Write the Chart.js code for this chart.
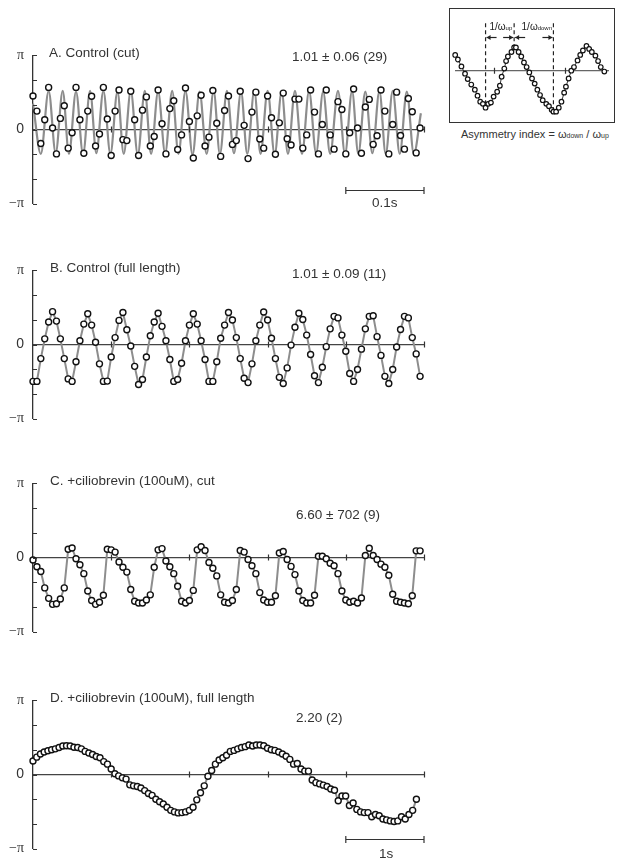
<!DOCTYPE html>
<html>
<head>
<meta charset="utf-8">
<title>Phase traces</title>
<script src="https://cdn.jsdelivr.net/npm/chart.js@4.4.1/dist/chart.umd.min.js"></script>
<style>
  body { margin: 0; width: 618px; height: 860px; position: relative; overflow: hidden; background: #fff;
         font-family: "Liberation Sans", Arial, sans-serif; color: #333; }
  canvas { position: absolute; }
  .lbl { position: absolute; font-size: 13.5px; white-space: nowrap; line-height: 14px; color: #333; }
  #insetBox { position: absolute; left: 449px; top: 8px; width: 164px; height: 113px; border: 1.5px solid #333; }
  #insetBox canvas { left: 0; top: 0; }
  .cap { position: absolute; left: 461px; top: 128px; font-size: 11px; white-space: nowrap; color: #333; }
  .cap span { font-size: 7px; color: #333; }
</style>
</head>
<body>
<canvas id="chartA" width="430" height="183" style="left:0;top:38px"></canvas>
<canvas id="chartB" width="430" height="183" style="left:0;top:253px"></canvas>
<canvas id="chartC" width="430" height="183" style="left:0;top:466px"></canvas>
<canvas id="chartD" width="430" height="183" style="left:0;top:683px"></canvas>
<div id="insetBox"><canvas id="chartInset" width="164" height="113"></canvas></div>

<div class="lbl" style="left:49px;top:46px">A. Control (cut)</div>
<div class="lbl" style="left:292px;top:50px">1.01 ± 0.06 (29)</div>
<div class="lbl" style="left:372px;top:196px">0.1s</div>
<div class="lbl" style="left:50px;top:261px">B. Control (full length)</div>
<div class="lbl" style="left:292px;top:267px">1.01 ± 0.09 (11)</div>
<div class="lbl" style="left:50px;top:474px">C. +ciliobrevin (100uM), cut</div>
<div class="lbl" style="left:296px;top:508px">6.60 ± 702 (9)</div>
<div class="lbl" style="left:50px;top:691px">D. +ciliobrevin (100uM), full length</div>
<div class="lbl" style="left:296px;top:711px">2.20 (2)</div>
<div class="lbl" style="left:379px;top:847px">1s</div>
<div class="cap">Asymmetry index = ω<span>down</span> / ω<span>up</span></div>

<script>
// phase values in units of pi, sampled every STEP
const A_STEP_MS = 5;
const A_VAL = [0.453, 0.248, -0.188, 0.132, 0.568, 0.021, -0.329, 0.15, 0.321, -0.252,
  -0.043, 0.568, 0.132, -0.321, 0.248, 0.449, -0.222, -0.060, 0.568, 0.141,
  -0.350, 0.248, 0.534, -0.137, -0.150, 0.517, 0.132, -0.350, 0.261, 0.440,
  -0.222, -0.094, 0.534, 0.077, -0.329, 0.282, 0.389, -0.269, -0.073, 0.560,
  0.107, -0.385, 0.184, 0.462, -0.222, -0.103, 0.526, 0.085, -0.363, 0.256,
  0.453, -0.201, -0.150, 0.517, 0.056, -0.393, 0.235, 0.504, -0.128, -0.252,
  0.453, 0.158, -0.333, 0.090, 0.491, -0.124, -0.209, 0.410, 0.410, -0.252,
  -0.073, 0.534, 0.235, -0.329, 0.068, 0.534, -0.073, -0.265, 0.376, 0.269,
  -0.329, -0.043, 0.547, 0.021, -0.321, 0.303, 0.406, -0.201, -0.085, 0.534,
  0.248, -0.329, 0.068, 0.504, -0.081, -0.265, 0.419, 0.239, -0.316, 0.021];
// fitted sine in A: turning points (ms, pi units)
const A_FIT_MS = [0, 10, 20, 29, 38, 46, 55, 64, 73, 81, 90, 99, 108, 116, 125, 134, 143, 151, 160,
  169, 178, 186, 195, 204, 213, 222, 231, 239, 248, 257, 266, 274, 283, 291, 300, 309, 318, 326, 335,
  344, 353, 362, 371, 380, 390, 399, 408, 416, 425, 434, 443, 451, 460, 469, 478, 487, 496];
const A_FIT_VAL = [0.35, -0.33, 0.52, -0.32, 0.52, -0.33, 0.51, -0.33, 0.52, -0.32, 0.52, -0.33, 0.51,
  -0.33, 0.52, -0.34, 0.52, -0.33, 0.51, -0.32, 0.52, -0.33, 0.52, -0.34, 0.51, -0.33, 0.52, -0.33, 0.52,
  -0.32, 0.51, -0.33, 0.52, -0.33, 0.52, -0.34, 0.51, -0.33, 0.52, -0.33, 0.52, -0.32, 0.51, -0.33, 0.52,
  -0.33, 0.52, -0.33, 0.51, -0.32, 0.52, -0.33, 0.52, -0.33, 0.51, -0.33, 0.22];

const B_STEP_MS = 5;
const B_VAL = [-0.498, -0.498, -0.190, 0.076, 0.304, 0.443, 0.316, 0.076, -0.190, -0.464,
  -0.498, -0.232, 0.051, 0.275, 0.414, 0.262, 0.030, -0.261, -0.498, -0.494,
  -0.168, 0.093, 0.325, 0.431, 0.199, -0.021, -0.295, -0.540, -0.472, -0.168,
  0.119, 0.304, 0.422, 0.245, 0.051, -0.202, -0.498, -0.472, -0.253, 0.051,
  0.262, 0.414, 0.275, 0.051, -0.202, -0.498, -0.498, -0.232, 0.085, 0.262,
  0.431, 0.330, 0.093, -0.190, -0.455, -0.514, -0.261, 0.051, 0.262, 0.439,
  0.330, 0.085, -0.190, -0.443, -0.527, -0.316, -0.008, 0.232, 0.422, 0.338,
  0.127, -0.135, -0.422, -0.514, -0.308, -0.029, 0.211, 0.380, 0.359, 0.127,
  -0.092, -0.392, -0.498, -0.337, -0.063, 0.211, 0.380, 0.389, 0.106, -0.147,
  -0.430, -0.527, -0.337, -0.033, 0.203, 0.380, 0.359, 0.093, -0.127, -0.430];

const C_STEP_MS = 5;
const C_VAL = [-0.034, -0.124, -0.188, -0.410, -0.551, -0.632, -0.624, -0.560, -0.410, 0.111,
  0.128, -0.017, -0.098, -0.218, -0.453, -0.581, -0.632, -0.603, -0.509, 0.111,
  0.103, 0.073, -0.060, -0.132, -0.197, -0.432, -0.590, -0.615, -0.615, -0.573,
  -0.504, -0.132, 0.103, 0.120, -0.047, -0.124, -0.218, -0.389, -0.590, -0.615,
  -0.581, -0.444, 0.103, 0.145, 0.094, -0.068, -0.145, -0.248, -0.504, -0.603,
  -0.615, -0.581, -0.432, 0.094, 0.073, -0.026, -0.111, -0.218, -0.474, -0.573,
  -0.603, -0.603, -0.517, 0.060, 0.081, -0.026, -0.120, -0.231, -0.453, -0.581,
  -0.615, -0.615, -0.509, 0.017, 0.017, -0.017, -0.077, -0.111, -0.218, -0.453,
  -0.573, -0.603, -0.590, -0.615, -0.547, 0.026, 0.124, 0.026, -0.026, -0.090,
  -0.132, -0.239, -0.496, -0.590, -0.603, -0.615, -0.624, -0.517, 0.090, 0.090];

const D_STEP_S = 0.0476;
const D_VAL = [0.183, 0.234, 0.277, 0.303, 0.320, 0.333, 0.346, 0.364, 0.385, 0.389,
  0.385, 0.368, 0.364, 0.346, 0.312, 0.290, 0.269, 0.243, 0.226, 0.174,
  0.140, 0.075, 0.011, -0.019, -0.045, -0.062, -0.140, -0.153, -0.161, -0.183,
  -0.217, -0.256, -0.282, -0.333, -0.368, -0.398, -0.441, -0.484, -0.505, -0.518,
  -0.514, -0.505, -0.484, -0.441, -0.342, -0.247, -0.153, -0.024, 0.054, 0.140,
  0.196, 0.226, 0.260, 0.312, 0.325, 0.346, 0.364, 0.376, 0.398, 0.385,
  0.398, 0.398, 0.389, 0.355, 0.333, 0.325, 0.303, 0.277, 0.247, 0.204,
  0.140, 0.148, 0.075, 0.045, 0.045, -0.075, -0.110, -0.127, -0.144, -0.161,
  -0.196, -0.213, -0.355, -0.290, -0.290, -0.419, -0.385, -0.471, -0.505, -0.514,
  -0.514, -0.570, -0.540, -0.557, -0.600, -0.613, -0.626, -0.634, -0.626, -0.570,
  -0.600, -0.540, -0.484, -0.333];

// inset: schematic wave
const INSET_X = [0, 3, 7, 11, 14, 18, 22, 25, 28, 31, 34, 37, 40, 43, 47, 50, 52, 55, 57, 59,
  63, 66, 68, 71, 74, 77, 80, 83, 86, 89, 92, 95, 98, 102, 105, 108, 110, 113, 116, 119,
  122, 124, 127, 130, 133, 137, 140, 143, 147, 150, 153, 157, 160, 163, 167];
const INSET_Y = [0.348, 0.248, 0.094, -0.066, -0.186, -0.306, -0.420, -0.553, -0.686, -0.733,
  -0.819, -0.733, -0.706, -0.573, -0.466, -0.333, -0.133, 0.047, 0.214, 0.314,
  0.414, 0.514, 0.514, 0.414, 0.314, 0.181, 0.081, -0.039, -0.173, -0.286,
  -0.420, -0.539, -0.653, -0.733, -0.786, -0.866, -0.906, -0.906, -0.819, -0.686,
  -0.486, -0.353, -0.173, 0.0, 0.081, 0.227, 0.348, 0.447, 0.547, 0.481,
  0.414, 0.333, 0.214, 0.081, -0.019];
const INSET_TICKS = [43, 123];

function piLabel(v) {
  if (Math.abs(v - 1) < 1e-6) return 'π';
  if (Math.abs(v) < 1e-6) return '0';
  if (Math.abs(v + 1) < 1e-6) return '−π';
  return '';
}

function sampled(vals, step) {
  return vals.map(function (v, i) { return { x: i * step, y: v }; });
}

// inward y ticks, small marks across the zero line, scale bar
const axisDeco = {
  id: 'axisDeco',
  afterDraw(chart, args, opts) {
    const ctx = chart.ctx, x = chart.scales.x, y = chart.scales.y;
    const y0 = y.getPixelForValue(0);
    ctx.save();
    ctx.strokeStyle = '#333';
    ctx.lineWidth = 1.2;
    ctx.beginPath();
    if (y.options.display) {
      y.ticks.forEach(function (t) {
        const py = Math.round(y.getPixelForValue(t.value)) + 0.5;
        ctx.moveTo(y.right, py);
        ctx.lineTo(y.right + 4, py);
      });
    }
    (opts.xTicks || x.ticks.map(function (t) { return t.value; })).forEach(function (v) {
      if (v <= x.min) return;
      const px = Math.round(x.getPixelForValue(v)) + 0.5;
      ctx.moveTo(px, y0 - 3);
      ctx.lineTo(px, y0 + 3);
    });
    if (opts.bar) {
      const py = Math.round(y.getPixelForValue(opts.bar[2])) + 0.5;
      const p0 = x.getPixelForValue(opts.bar[0]), p1 = x.getPixelForValue(opts.bar[1]);
      ctx.moveTo(p0, py); ctx.lineTo(p1, py);
      ctx.moveTo(p0, py - 3.5); ctx.lineTo(p0, py + 3.5);
      ctx.moveTo(p1, py - 3.5); ctx.lineTo(p1, py + 3.5);
    }
    ctx.stroke();
    ctx.restore();
  }
};

const dots = {
  showLine: false, pointRadius: 3, pointBackgroundColor: '#fff',
  pointBorderColor: '#111', pointBorderWidth: 1.4, clip: false
};

function phasePanel(id, datasets, xMax, xStep, bar) {
  return new Chart(document.getElementById(id), {
    type: 'line',
    data: { datasets: datasets },
    options: {
      responsive: false, animation: false, events: [],
      layout: { padding: { top: 15, bottom: 12, left: 0, right: 6 } },
      plugins: { legend: { display: false }, tooltip: { enabled: false }, axisDeco: { bar: bar } },
      scales: {
        x: {
          type: 'linear', min: 0, max: xMax, position: { y: 0 },
          border: { display: true, color: '#444', width: 1.3 },
          grid: { display: false, drawTicks: false },
          ticks: { display: false, stepSize: xStep }
        },
        y: {
          min: -1, max: 1,
          afterFit: function (s) { s.width = 33; },
          border: { display: true, color: '#333', width: 1.3 },
          grid: { display: false, drawTicks: false },
          ticks: {
            stepSize: 1 / 3, autoSkip: false, padding: 9, color: '#333', callback: piLabel,
            font: function (c) {
              const zero = c.tick && Math.abs(c.tick.value) < 1e-6;
              return { family: zero ? 'Liberation Sans' : 'Liberation Serif', size: 14 };
            }
          }
        }
      }
    },
    plugins: [axisDeco]
  });
}

function tracePoints(vals, step) {
  return Object.assign({}, dots, {
    data: sampled(vals, step), showLine: true, borderColor: '#8d8d8d', borderWidth: 2, tension: 0
  });
}

phasePanel('chartA', [
  Object.assign({}, dots, { data: sampled(A_VAL, A_STEP_MS), order: 0 }),
  { data: A_FIT_MS.map(function (t, i) { return { x: t, y: A_FIT_VAL[i] }; }),
    borderColor: '#8d8d8d', borderWidth: 2.2, pointRadius: 0, cubicInterpolationMode: 'monotone', order: 1, clip: false }
], 500, 100, [400, 500, -0.81]);

phasePanel('chartB', [tracePoints(B_VAL, B_STEP_MS)], 500, 100);
phasePanel('chartC', [tracePoints(C_VAL, C_STEP_MS)], 500, 100);
phasePanel('chartD', [tracePoints(D_VAL, D_STEP_S)], 5, 1, [4, 5, -0.87]);

// inset: turning points found from the data
function argExt(arr, from, to, wantMax) {
  let best = from;
  for (let i = from; i < to; i++) {
    if (wantMax ? arr[i] > arr[best] : arr[i] < arr[best]) best = i;
  }
  return best;
}
const iLow1 = argExt(INSET_Y, 0, 20, false);
const iPeak = argExt(INSET_Y, iLow1, iLow1 + 20, true);
const iLow2 = argExt(INSET_Y, iPeak, iPeak + 25, false);
const DASH_TOP = 1.05;

function dashed(i) {
  return { data: [{ x: INSET_X[i], y: DASH_TOP }, { x: INSET_X[i], y: INSET_Y[i] }],
    borderColor: '#222', borderWidth: 1.2, borderDash: [4, 3], pointRadius: 0, order: 2 };
}

const insetDeco = {
  id: 'insetDeco',
  afterDatasetsDraw(chart) {
    const ctx = chart.ctx, x = chart.scales.x, y = chart.scales.y;
    const xa = x.getPixelForValue(INSET_X[iLow1]);
    const xb = x.getPixelForValue(INSET_X[iPeak]);
    const xc = x.getPixelForValue(INSET_X[iLow2]);
    const ay = Math.round(y.getPixelForValue(0.74)) + 0.5;
    ctx.save();
    ctx.strokeStyle = '#222';
    ctx.fillStyle = '#222';
    ctx.lineWidth = 1.2;
    function arrow(tip, dir) {
      ctx.beginPath();
      ctx.moveTo(tip, ay); ctx.lineTo(tip + dir * 10, ay); ctx.stroke();
      ctx.beginPath();
      ctx.moveTo(tip, ay); ctx.lineTo(tip + dir * 4, ay - 2.5); ctx.lineTo(tip + dir * 4, ay + 2.5);
      ctx.closePath(); ctx.fill();
    }
    arrow(xa + 1, 1); arrow(xb - 1, -1); arrow(xb + 1, 1); arrow(xc - 1, -1);
    function label(cx, sub) {
      const ty = y.getPixelForValue(0.96);
      ctx.font = '10px "Liberation Sans"';
      const w1 = ctx.measureText('1/ω').width;
      ctx.font = '6px "Liberation Sans"';
      const w2 = ctx.measureText(sub).width;
      const left = cx - (w1 + w2) / 2;
      ctx.textBaseline = 'middle';
      ctx.font = '10px "Liberation Sans"';
      ctx.fillText('1/ω', left, ty);
      ctx.font = '6px "Liberation Sans"';
      ctx.fillText(sub, left + w1, ty + 1.5);
    }
    label((xa + xb) / 2 + 1, 'up');
    label((xb + xc) / 2 + 3, 'down');
    ctx.restore();
  }
};

new Chart(document.getElementById('chartInset'), {
  type: 'line',
  data: {
    datasets: [
      { data: INSET_X.map(function (v, i) { return { x: v, y: INSET_Y[i] }; }),
        borderColor: '#333', borderWidth: 1, tension: 0, pointRadius: 2.3,
        pointBackgroundColor: '#fff', pointBorderColor: '#111', pointBorderWidth: 1.2, order: 0, clip: false },
      dashed(iLow1), dashed(iPeak), dashed(iLow2)
    ]
  },
  options: {
    responsive: false, animation: false, events: [],
    layout: { padding: 0 },
    plugins: { legend: { display: false }, tooltip: { enabled: false }, axisDeco: { xTicks: INSET_TICKS } },
    scales: {
      x: { type: 'linear', min: 0, max: 172, position: { y: 0 },
           border: { display: true, color: '#666', width: 1.2 },
           grid: { display: false, drawTicks: false }, ticks: { display: false } },
      y: { display: false, min: -1.02, max: 1.25 }
    }
  },
  plugins: [axisDeco, insetDeco]
});
</script>
</body>
</html>
